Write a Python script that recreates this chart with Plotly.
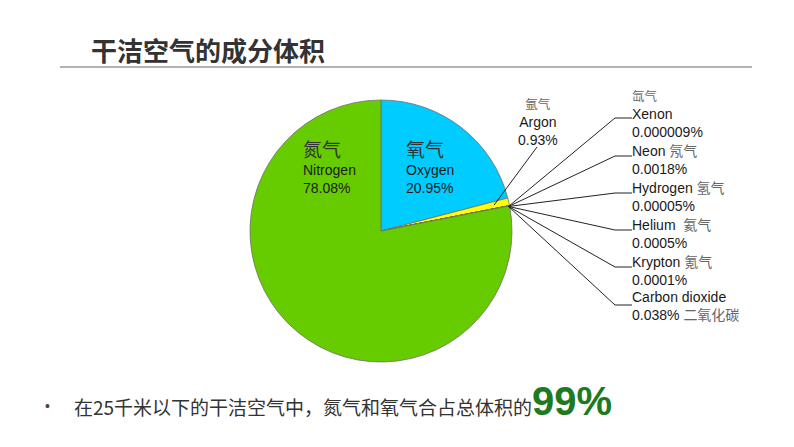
import math
import plotly.graph_objects as go

W, H = 794, 447

# data
gases_en = ["Oxygen", "Argon", "Carbon dioxide", "Neon", "Helium", "Krypton", "Hydrogen", "Xenon", "Nitrogen"]
gases_cn = ["氧气", "氩气", "二氧化碳", "氖气", "氦气", "氪气", "氢气", "氙气", "氮气"]
percent = [20.95, 0.93, 0.038, 0.0018, 0.0005, 0.0001, 0.00005, 0.000009, 78.08]
percent_txt = ["20.95%", "0.93%", "0.038%", "0.0018%", "0.0005%", "0.0001%", "0.00005%", "0.000009%", "78.08%"]
colors = ["#00ccff", "#ffff00", "#ffff00", "#ffff00", "#ffff00", "#ffff00", "#ffff00", "#ffff00", "#66cc00"]

title = "干洁空气的成分体积"
bullet_text = "在25千米以下的干洁空气中，氮气和氧气合占总体积的"
bullet_emph = "99%"

# pie geometry (pixels)
cx, cy, R = 381, 231, 131

fig = go.Figure()
fig.add_trace(go.Pie(
    values=percent, labels=gases_en, sort=False, direction="clockwise", rotation=0,
    marker=dict(colors=colors, line=dict(color="#707070", width=0.8)),
    textinfo="none", hoverinfo="label+percent", showlegend=False,
    domain=dict(x=[(cx - R) / W, (cx + R) / W], y=[(H - cy - R) / H, (H - cy + R) / H]),
))

# invisible pixel axes
fig.add_trace(go.Scatter(x=[0, W], y=[0, H], mode="markers", marker=dict(opacity=0), hoverinfo="skip", showlegend=False))

total = sum(percent)
theta = (percent[0] + percent[1]) / total * 2 * math.pi
ox = cx + R * math.sin(theta) - 1
oy = cy - R * math.cos(theta) + 1
theta_ar = (percent[0] + percent[1] / 2) / total * 2 * math.pi
ax0 = cx + (R - 15) * math.sin(theta_ar)
ay0 = cy - (R - 15) * math.cos(theta_ar)

shapes = []
annotations = []
GRAY = "#666666"
DARK = "#1a1a1a"
FONT = "Liberation Sans, Noto Sans CJK SC, sans-serif"
CJK = "Noto Sans CJK SC, sans-serif"
FS = 14

def txt(x, y, s, size=FS, color=DARK, anchor="left", family=FONT, align="left"):
    annotations.append(dict(x=x, y=y, xref="x", yref="y", text=s, showarrow=False,
                            xanchor=anchor, yanchor="middle", borderpad=0, align=align,
                            font=dict(size=size, color=color, family=family)))

def line(x0, y0, x1, y1, color="#222222", width=1):
    shapes.append(dict(type="line", xref="x", yref="y", x0=x0, y0=y0, x1=x1, y1=y1,
                       line=dict(color=color, width=width)))

def cjk(s, size=None, color=GRAY):
    st = "color:%s;font-family:Noto Sans CJK SC" % color
    if size:
        st += ";font-size:%spx" % size
    return "<span style='%s'>%s</span>" % (st, s)

# title and rule
txt(90, 49, "<b>" + title + "</b>", size=26, color="#333333", family=CJK)
line(60, 67, 752, 67, color="#999999", width=1.5)

# Nitrogen / Oxygen inner labels
txt(302, 165, cjk(gases_cn[8], 19, "#333333") + "<br>" + gases_en[8] + "<br>" + percent_txt[8])
txt(405, 165, cjk(gases_cn[0], 19, "#333333") + "<br>" + gases_en[0] + "<br>" + percent_txt[0])

# Argon
txt(538, 121, cjk(gases_cn[1], 12.5) + "<br>" + gases_en[1] + "<br>" + percent_txt[1],
    anchor="center", align="center")
line(ax0, ay0, 537, 147)

# right-side leader elbows
elbows = [118, 156, 193, 230, 267, 305]
for ey in elbows:
    line(ox, oy, 615, ey)
    line(615, ey, 632, ey)

X = 631
txt(X, 113, cjk(gases_cn[7], 12.5) + "<br>" + gases_en[7] + "<br>" + percent_txt[7])
txt(X, 158, gases_en[3] + " " + cjk(gases_cn[3]) + "<br>" + percent_txt[3])
txt(X, 195, gases_en[6] + " " + cjk(gases_cn[6]) + "<br>" + percent_txt[6])
txt(X, 232, gases_en[4] + "  " + cjk(gases_cn[4]) + "<br>" + percent_txt[4])
txt(X, 269, gases_en[5] + " " + cjk(gases_cn[5]) + "<br>" + percent_txt[5])
txt(X, 306, gases_en[2] + "<br>" + percent_txt[2] + " " + cjk(gases_cn[2]))

# bottom bullet line
txt(44, 406, "•", size=14, color="#444444")
emph = "<span style='font-size:40px;font-weight:bold;color:#1e7a1e;font-family:Liberation Sans'>%s</span>" % bullet_emph
txt(73, 401, bullet_text + emph, size=19, color="#333333", family=CJK)

fig.update_layout(
    width=W, height=H, margin=dict(l=0, r=0, t=0, b=0),
    paper_bgcolor="white", plot_bgcolor="rgba(0,0,0,0)",
    xaxis=dict(range=[0, W], visible=False, domain=[0, 1], fixedrange=True),
    yaxis=dict(range=[H, 0], visible=False, domain=[0, 1], fixedrange=True),
    shapes=shapes, annotations=annotations,
)
fig.write_html("out.html")
